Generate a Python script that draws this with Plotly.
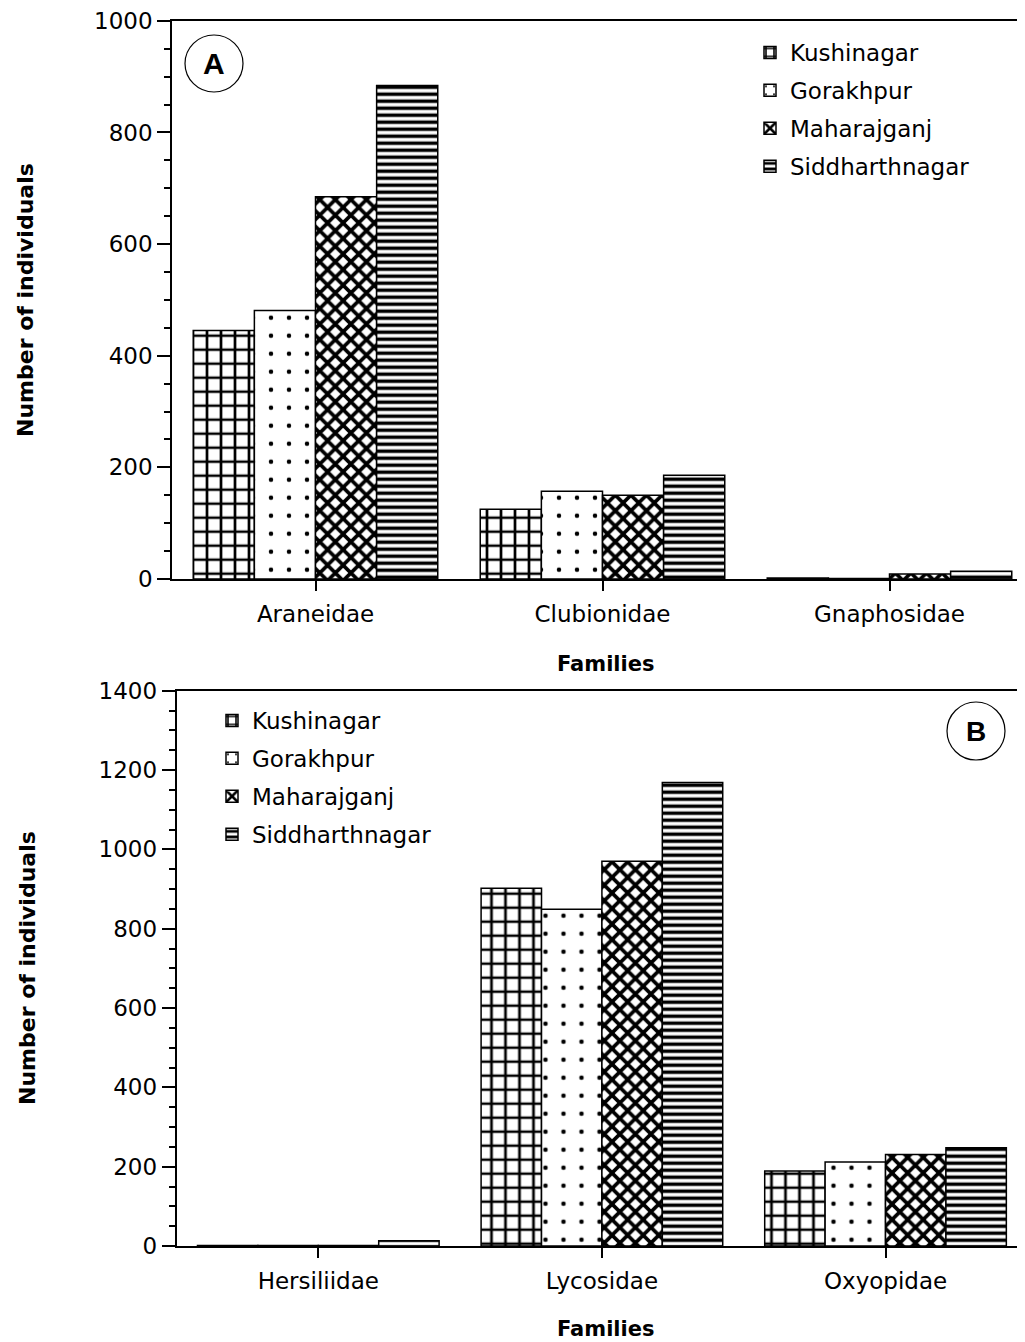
import plotly.graph_objects as go

W, H = 1025, 1342
OFF = 8  # page body margin

series = ["Kushinagar", "Gorakhpur", "Maharajganj", "Siddharthnagar"]

fam_a = ["Araneidae", "Clubionidae", "Gnaphosidae"]
kush_a = [445, 125, 2]
gora_a = [481, 157, 1]
maha_a = [685, 150, 9]
sidd_a = [884, 186, 14]

fam_b = ["Hersiliidae", "Lycosidae", "Oxyopidae"]
kush_b = [1, 902, 189]
gora_b = [1, 849, 212]
maha_b = [1, 970, 231]
sidd_b = [13, 1169, 248]

yticks_a = [0, 200, 400, 600, 800, 1000]
yticks_b = [0, 200, 400, 600, 800, 1000, 1200, 1400]

patterns = [
    dict(shape="+", size=14, solidity=0.35, fgcolor="black", bgcolor="white", fillmode="replace"),
    dict(shape=".", size=18, solidity=0.05, fgcolor="black", bgcolor="white", fillmode="replace"),
    dict(shape="x", size=11, solidity=0.55, fgcolor="black", bgcolor="white", fillmode="replace"),
    dict(shape="-", size=7, solidity=0.5, fgcolor="black", bgcolor="white", fillmode="replace"),
]

FONT = "DejaVu Sans, Liberation Sans, Arial, sans-serif"
TFS = 23

fig = go.Figure()

for i, (name, vals) in enumerate(zip(series, [kush_a, gora_a, maha_a, sidd_a])):
    fig.add_trace(go.Bar(
        x=fam_a, y=vals, name=name, xaxis="x", yaxis="y",
        marker=dict(color="white", line=dict(color="black", width=1.5), pattern=patterns[i]),
        legend="legend", legendgroup="a%d" % i,
    ))

for i, (name, vals) in enumerate(zip(series, [kush_b, gora_b, maha_b, sidd_b])):
    fig.add_trace(go.Bar(
        x=fam_b, y=vals, name=name, xaxis="x2", yaxis="y2",
        marker=dict(color="white", line=dict(color="black", width=1.5), pattern=patterns[i]),
        legend="legend2", legendgroup="b%d" % i,
    ))


def py(pix):
    return 1 - (pix - OFF) / H


def px(pix):
    return (pix - OFF) / W


xcommon = dict(
    showline=True, linecolor="black", linewidth=1.5, mirror=True,
    ticks="outside", ticklen=10, tickwidth=1.5, tickcolor="black",
    tickfont=dict(family=FONT, size=TFS, color="black"),
    showgrid=False, zeroline=False, automargin=False, fixedrange=True,
    ticklabelstandoff=4,
)
ycommon = dict(
    showline=True, linecolor="black", linewidth=1.5, mirror=False,
    ticks="outside", ticklen=13, tickwidth=1.5, tickcolor="black",
    tickfont=dict(family=FONT, size=TFS, color="black"),
    showgrid=False, zeroline=False, automargin=False,
    minor=dict(dtick=50, ticks="outside", ticklen=6, tickwidth=1.5, tickcolor="black"),
    ticklabelstandoff=0, ticklabeloverflow="allow",
)

fig.update_layout(
    width=W, height=H,
    margin=dict(l=0, r=0, t=0, b=0),
    paper_bgcolor="white", plot_bgcolor="white",
    template="none",
    barmode="group", bargap=0.148, bargroupgap=0,
    font=dict(family=FONT, size=TFS, color="black"),
    xaxis=dict(domain=[px(172), 1], range=[-0.5, 2.5], anchor="y", **xcommon),
    yaxis=dict(domain=[py(579), py(20.7)], range=[0, 1000.2], tickvals=yticks_a, anchor="x", **ycommon),
    xaxis2=dict(domain=[px(176.5), 1], range=[-0.5, 2.52], anchor="y2", **xcommon),
    yaxis2=dict(domain=[py(1246), py(690.7)], range=[0, 1400.2], tickvals=yticks_b, anchor="x2", **ycommon),
    legend=dict(
        x=px(750), y=py(31), xanchor="left", yanchor="top",
        bgcolor="rgba(0,0,0,0)", font=dict(family=FONT, size=TFS, color="black"),
        tracegroupgap=5, itemwidth=30,
    ),
    legend2=dict(
        x=px(212), y=py(699), xanchor="left", yanchor="top",
        bgcolor="rgba(0,0,0,0)", font=dict(family=FONT, size=TFS, color="black"),
        tracegroupgap=5, itemwidth=30,
    ),
    showlegend=True,
)

BF = dict(family=FONT, size=22, color="black")
anns = [
    dict(text="<b>Families</b>", x=px(606), y=py(664), xref="paper", yref="paper",
         xanchor="center", yanchor="middle", showarrow=False, font=dict(family=FONT, size=21, color="black")),
    dict(text="<b>Families</b>", x=px(606), y=py(1329), xref="paper", yref="paper",
         xanchor="center", yanchor="middle", showarrow=False, font=dict(family=FONT, size=21, color="black")),
    dict(text="<b>Number of individuals</b>", x=px(25), y=py(300), xref="paper", yref="paper",
         xanchor="center", yanchor="middle", showarrow=False, textangle=-90, font=BF),
    dict(text="<b>Number of individuals</b>", x=px(27), y=py(968), xref="paper", yref="paper",
         xanchor="center", yanchor="middle", showarrow=False, textangle=-90, font=BF),
    dict(text="<b>A</b>", x=px(214), y=py(63), xref="paper", yref="paper",
         xanchor="center", yanchor="middle", showarrow=False,
         font=dict(family="Liberation Sans, Arial, sans-serif", size=30, color="black")),
    dict(text="<b>B</b>", x=px(976), y=py(731), xref="paper", yref="paper",
         xanchor="center", yanchor="middle", showarrow=False,
         font=dict(family="Liberation Sans, Arial, sans-serif", size=28, color="black")),
]
fig.update_layout(annotations=anns)

fig.add_shape(type="circle", xref="paper", yref="paper",
              x0=px(185), x1=px(243), y0=py(92), y1=py(35),
              line=dict(color="black", width=1.2))
fig.add_shape(type="circle", xref="paper", yref="paper",
              x0=px(947), x1=px(1005), y0=py(760), y1=py(702),
              line=dict(color="black", width=1.2))

fig.write_html("out.html")
